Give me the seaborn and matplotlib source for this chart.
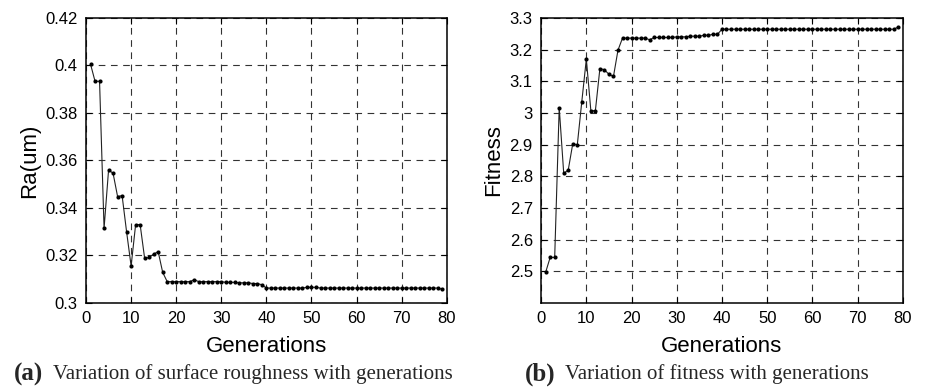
import numpy as np
import pandas as pd
import seaborn as sns
import matplotlib.pyplot as plt

# generations 1..79
gens = list(range(1, 80))

# surface roughness Ra(um) per generation
ra_head = [0.4005, 0.3933, 0.3933, 0.3314, 0.3560, 0.3546, 0.3448, 0.3452, 0.3299, 0.3156,
           0.3330, 0.3330, 0.3188, 0.3192, 0.3206, 0.3216, 0.3129]
ra_mid = [0.3090] * 6 + [0.3098] + [0.3090] * 6 + [0.3087] * 3 + [0.3085] * 3 + [0.3082] * 2 + [0.3077]
ra_tail = [0.3063] * 9 + [0.3066] * 3 + [0.3063] * 27 + [0.3058]
ra = ra_head + ra_mid + ra_tail

# fitness per generation
fit_head = [2.497, 2.544, 2.544, 3.017, 2.809, 2.820, 2.903, 2.899, 3.036, 3.170,
            3.007, 3.007, 3.140, 3.136, 3.122, 3.115, 3.198]
fit_mid = [3.236] * 6 + [3.231] + [3.238] * 5 + [3.240] * 3 + [3.242] * 3 + [3.245] * 2 + [3.248] * 2
fit_tail = [3.264] * 39 + [3.271]
fit = fit_head + fit_mid + fit_tail

df = pd.DataFrame({"gen": gens, "ra": ra, "fit": fit})

sns.set_theme(style="ticks")
plt.rcParams['font.family'] = ['Liberation Sans', 'DejaVu Sans']

fig = plt.figure(figsize=(9.25, 3.88), dpi=100)
ax1 = fig.add_axes([0.093, 0.219, 0.390, 0.735])
ax2 = fig.add_axes([0.585, 0.219, 0.391, 0.735])

line_kw = dict(color="#222222", linewidth=0.8, marker="o", markersize=3,
               markeredgewidth=0, markerfacecolor="black")

sns.lineplot(data=df, x="gen", y="ra", ax=ax1, **line_kw)
sns.lineplot(data=df, x="gen", y="fit", ax=ax2, **line_kw)

for ax in (ax1, ax2):
    ax.set_xlim(0, 80)
    ax.set_xticks(range(0, 81, 10))
    ax.grid(True, color="#333333", linestyle=(0, (6, 5)), linewidth=0.8)
    ax.tick_params(direction="in", top=True, right=True, labelsize=12, length=4,
                   width=0.8, color="black", labelcolor="black", pad=6)
    for s in ax.spines.values():
        s.set_visible(True)
        s.set_color("black")
        s.set_linewidth(1.1)
    ax.set_xlabel("Generations", fontsize=16, color="black", labelpad=7)

ax1.set_ylim(0.3, 0.42)
ax1.set_yticks([0.3, 0.32, 0.34, 0.36, 0.38, 0.4, 0.42])
ax1.set_yticklabels(["0.3", "0.32", "0.34", "0.36", "0.38", "0.4", "0.42"])
ax1.set_ylabel("Ra(um)", fontsize=16, color="black", labelpad=4)

ax2.set_ylim(2.4, 3.3)
ax2.set_yticks([2.5, 2.6, 2.7, 2.8, 2.9, 3.0, 3.1, 3.2, 3.3])
ax2.set_yticklabels(["2.5", "2.6", "2.7", "2.8", "2.9", "3", "3.1", "3.2", "3.3"])
ax2.set_ylabel("Fitness", fontsize=16, color="black", labelpad=4)

serif = ['Liberation Serif', 'DejaVu Serif']
fig.text(0.015, 0.035, "(a)", fontsize=18, fontweight="bold", family=serif, va="center")
fig.text(0.057, 0.035, "Variation of surface roughness with generations", fontsize=15,
         family=serif, va="center")
fig.text(0.567, 0.035, "(b)", fontsize=18, fontweight="bold", family=serif, va="center")
fig.text(0.611, 0.035, "Variation of fitness with generations", fontsize=15,
         family=serif, va="center")

fig.savefig("out.png", dpi=100)
